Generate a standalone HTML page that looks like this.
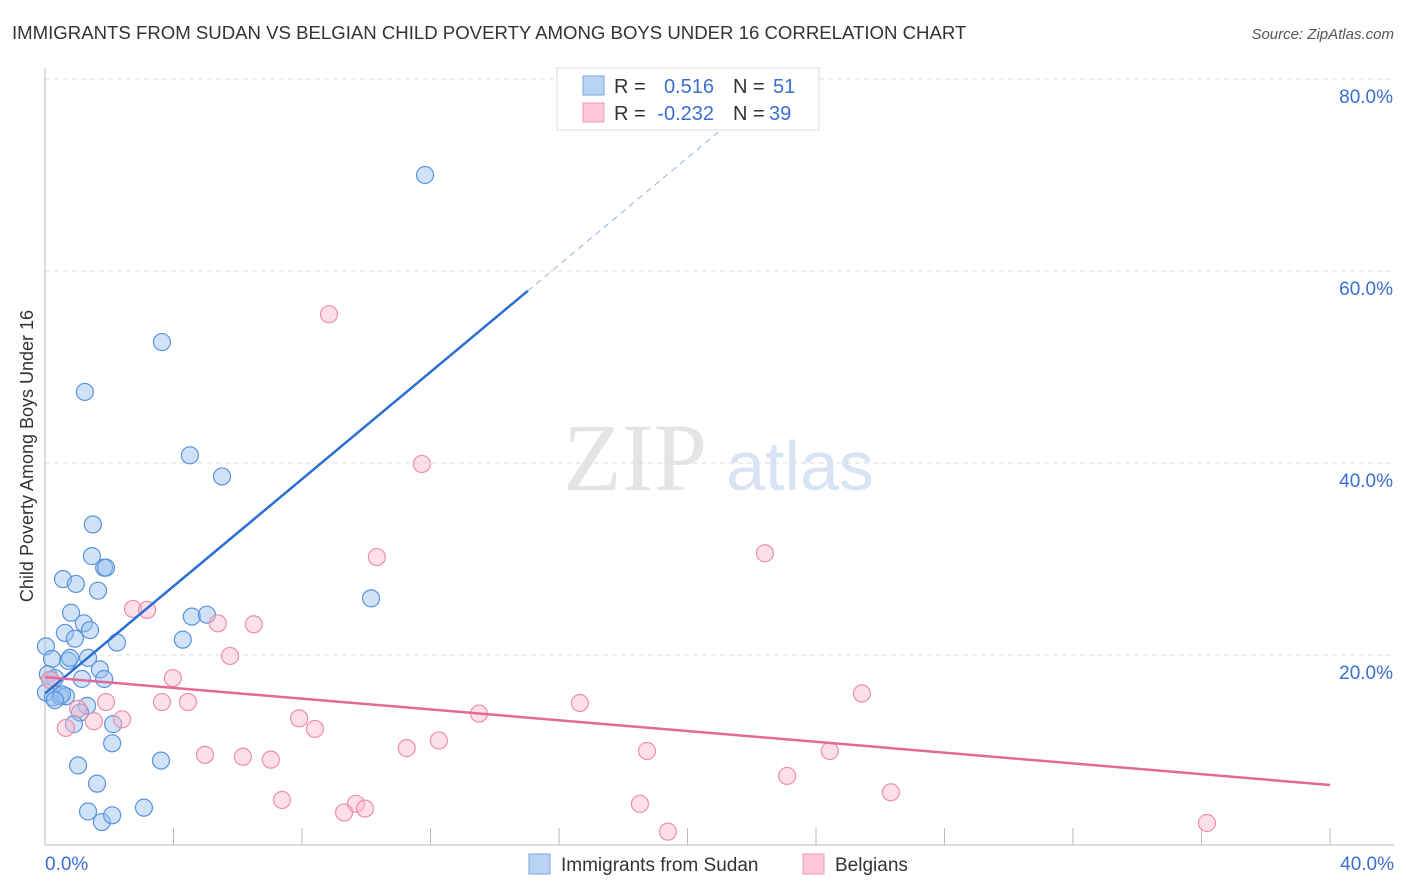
<!DOCTYPE html>
<html><head><meta charset="utf-8"><style>
body{margin:0;background:#fff;font-family:"Liberation Sans",sans-serif}
svg{display:block}
</style></head><body>
<svg id="chart" width="1406" height="892" viewBox="0 0 1406 892" xmlns="http://www.w3.org/2000/svg">
<text x="12" y="39" font-size="18.6" fill="#333">IMMIGRANTS FROM SUDAN VS BELGIAN CHILD POVERTY AMONG BOYS UNDER 16 CORRELATION CHART</text>
<text x="1394" y="39" font-size="15" fill="#555" text-anchor="end" font-style="italic">Source: ZipAtlas.com</text>
<text transform="translate(33,456) rotate(-90)" font-size="18" fill="#333" text-anchor="middle">Child Poverty Among Boys Under 16</text>
<g><text x="635" y="490" font-size="96" fill="#e4e4e4" text-anchor="middle" font-family="Liberation Serif,serif">ZIP</text><text x="800" y="490" font-size="70" fill="#d8e4f4" text-anchor="middle">atlas</text></g>
<g id="grid"></g><g id="axes"></g><g id="marks"></g>
<g>
<rect x="557" y="68" width="262" height="62" fill="#fff" stroke="#ddd"/>
<rect x="583" y="76" width="21" height="19" fill="#b9d3f5" stroke="#7aa6e6"/>
<rect x="583" y="103" width="21" height="19" fill="#fcc8d7" stroke="#ef9ab4"/>
<text x="614" y="93" font-size="20" fill="#333">R =</text><text x="714" y="93" font-size="20" fill="#3a6fd0" text-anchor="end">0.516</text>
<text x="733" y="93" font-size="20" fill="#333">N =</text><text x="773" y="93" font-size="20" fill="#3a6fd0">51</text>
<text x="614" y="120" font-size="20" fill="#333">R =</text><text x="714" y="120" font-size="20" fill="#3a6fd0" text-anchor="end">-0.232</text>
<text x="733" y="120" font-size="20" fill="#333">N =</text><text x="769" y="120" font-size="20" fill="#3a6fd0">39</text>
</g>
<g>
<rect x="529" y="854" width="21" height="20" fill="#b9d3f5" stroke="#7aa6e6"/>
<text x="561" y="871" font-size="19" fill="#333">Immigrants from Sudan</text>
<rect x="803" y="854" width="21" height="20" fill="#fcc8d7" stroke="#ef9ab4"/>
<text x="835" y="871" font-size="19" fill="#333">Belgians</text>
</g>
</svg>
<script>
const blueX=[11.83,3.64,1.24,4.51,5.51,1.49,1.46,1.84,1.9,0.56,0.96,1.65,10.15,0.81,4.57,5.04,1.21,1.4,0.62,0.93,2.24,4.29,0.03,0.22,0.72,1.34,0.78,1.71,0.09,0.31,1.15,1.84,0.03,0.25,0.47,0.65,0.53,0.31,1.31,1.09,0.9,2.12,2.09,1.03,1.62,3.61,1.34,3.08,1.77,2.09,0.16];
const blueY=[70.0,52.6,47.4,40.8,38.6,33.6,30.3,29.1,29.1,27.9,27.4,26.7,25.9,24.4,24.0,24.2,23.3,22.6,22.3,21.7,21.3,21.6,20.9,19.6,19.4,19.7,19.7,18.5,18.0,17.6,17.5,17.5,16.1,15.6,15.7,15.7,15.9,15.3,14.7,14.0,12.8,12.8,10.8,8.5,6.6,9.0,3.7,4.1,2.6,3.3,17.4];
const pinkX=[8.84,11.73,10.33,22.41,2.74,3.18,5.38,6.5,5.76,3.98,25.43,1.9,3.64,4.45,16.65,13.51,1.03,2.4,1.52,7.91,8.4,0.65,12.26,11.26,4.98,6.16,7.03,18.74,24.43,23.1,26.33,7.38,9.68,9.96,9.31,18.52,19.39,36.17,0.16];
const pinkY=[55.5,39.9,30.2,30.6,24.8,24.7,23.3,23.2,19.9,17.6,16.0,15.1,15.1,15.1,15.0,13.9,14.4,13.3,13.1,13.4,12.3,12.4,11.1,10.3,9.6,9.4,9.1,10.0,10.0,7.4,5.7,4.9,4.5,4.0,3.6,4.5,1.6,2.5,17.4];
const blueFit=[16.0,2.79], pinkFit=[17.7,-0.281];
const yTicks=[20,40,60,80], xTickVals=[0,4,8,12,16,20,24,28,32,36,40];
const X=v=>45+v/40*1285, Y=v=>847-v*9.6;
const NS='http://www.w3.org/2000/svg';
function mk(tag,attrs,parent){const e=document.createElementNS(NS,tag);for(const k in attrs)e.setAttribute(k,attrs[k]);document.getElementById(parent).appendChild(e);return e;}
yTicks.forEach(t=>{
 const l=mk('line',{x1:45,x2:1394,y1:Y(t),y2:Y(t),stroke:'#ddd','stroke-dasharray':'5,4'},'grid');
 
 
 const tx=mk('text',{x:1393,y:Y(t)+24,'font-size':19,fill:'#3a6fd0','text-anchor':'end'},'grid');
 tx.textContent=t.toFixed(1)+'%';
 
 
});
let a=mk('line',{x1:45,x2:45,y1:68,y2:845,stroke:'#bbb'},'axes');


a=mk('line',{x1:45,x2:1394,y1:845,y2:845,stroke:'#bbb'},'axes');


xTickVals.forEach(t=>{const l=mk('line',{x1:X(t),x2:X(t),y1:828,y2:845,stroke:'#bbb'},'axes');
 
 });
[[0,'start',45],[40,'end',1394]].forEach(([v,anc,px])=>{const t=mk('text',{x:px,y:870,'font-size':19,fill:'#3a6fd0','text-anchor':anc},'axes');t.textContent=v.toFixed(1)+'%';
 
 });
blueX.forEach((v,i)=>{const c=mk('circle',{cx:X(v),cy:Y(blueY[i]),r:8.5,fill:'rgba(150,190,240,0.45)',stroke:'#5b93db','stroke-width':1.2},'marks');
 
 });
pinkX.forEach((v,i)=>{const c=mk('circle',{cx:X(v),cy:Y(pinkY[i]),r:8.5,fill:'rgba(250,185,205,0.45)',stroke:'#ec8eab','stroke-width':1.2},'marks');
 
 });
let l=mk('line',{x1:X(0),y1:Y(blueFit[0]),x2:X(15.03),y2:Y(blueFit[0]+blueFit[1]*15.03),stroke:'#2a6fd6','stroke-width':2.5},'marks');


l=mk('line',{x1:X(15.03),y1:Y(blueFit[0]+blueFit[1]*15.03),x2:X(21.3),y2:Y(blueFit[0]+blueFit[1]*21.3),stroke:'#8fb0e0','stroke-width':1,'stroke-dasharray':'6,5'},'marks');


l=mk('line',{x1:X(0),y1:Y(pinkFit[0]),x2:X(40),y2:Y(pinkFit[0]+pinkFit[1]*40),stroke:'#e5689a','stroke-width':2.5},'marks');


</script>
</body></html>
